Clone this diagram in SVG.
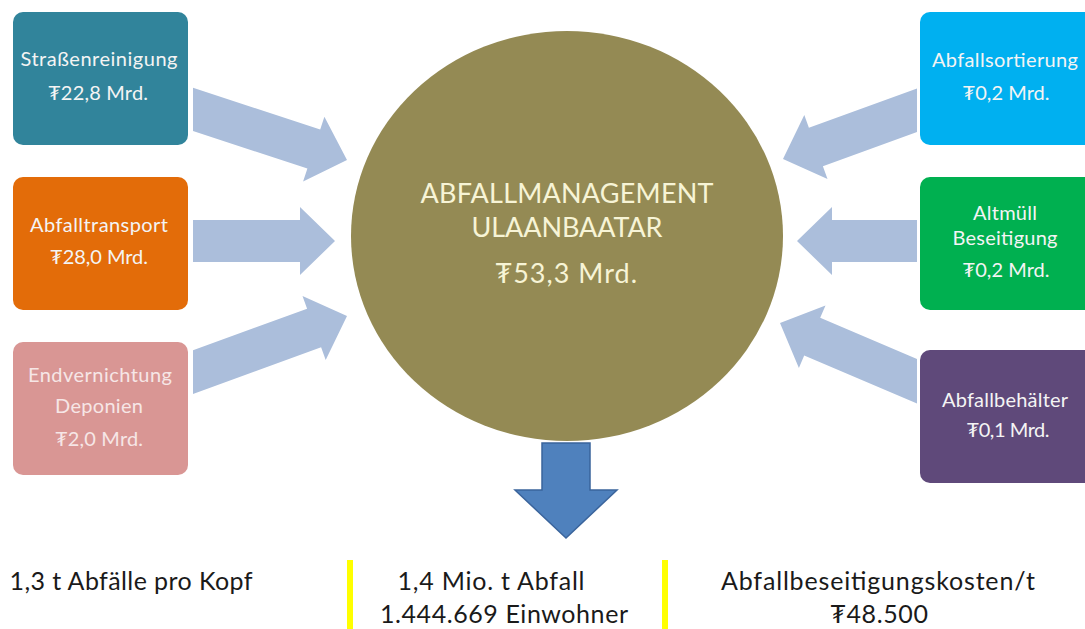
<svg xmlns="http://www.w3.org/2000/svg" width="1085" height="629" viewBox="0 0 1085 629">
<style>
.box text{font-family:Lato,"Open Sans","DejaVu Sans",sans-serif;font-size:20px;text-anchor:middle}
.lt{fill:#f4f4f4}
.arr{fill:#abbedb}
.ctr{font-family:Lato,"Open Sans","DejaVu Sans",sans-serif;font-size:27px;fill:#f7f4d6;text-anchor:middle}
.bt{font-family:Lato,"Open Sans","DejaVu Sans",sans-serif;font-size:25px;fill:#1a1a1a;text-anchor:middle}
.yl{fill:#ffff00}
</style>
<rect width="1085" height="629" fill="#ffffff"/>
<g id="connectors">
<polygon class="arr" points="193,87.8 320.2,129.6 324.4,116.8 347,160 303.1,181.4 307.4,168.6 193,131"/>
<polygon class="arr" points="193,220 300,220 300,207 335,241 300,275 300,262 193,262"/>
<polygon class="arr" points="193,350.2 307.1,308.7 302.5,296 347,316 325.7,360 321.1,347.3 193,393.9"/>
<polygon class="arr" points="917,88.4 808.9,127.7 804.3,115 783,159 827.5,179 822.9,166.3 917,132"/>
<polygon class="arr" points="917,220 832,220 832,207 797,241 832,275 832,262 917,262"/>
<polygon class="arr" points="917,358.9 820.2,317.8 825.5,305.4 780,323 798.9,368 804.2,355.6 917,403.5"/>
<polygon points="542,443 590,443 590,490 617,490 566,538 515,490 542,490" fill="#4f81bd" stroke="#3a649c" stroke-width="1.5"/>
</g>
<g id="center">
<ellipse cx="567" cy="236" rx="216" ry="205" fill="#948a54"/>
<text class="ctr" x="567" y="203" textLength="293">ABFALLMANAGEMENT</text>
<text class="ctr" x="567" y="237" textLength="191">ULAANBAATAR</text>
<text class="ctr" x="566" y="283" textLength="142">₮53,3 Mrd.</text>
</g>
<g id="strassenreinigung" class="box">
<rect x="13" y="12" width="175" height="133" rx="10" fill="#31849b"/>
<text class="lt" x="99" y="66" textLength="157">Straßenreinigung</text>
<text class="lt" x="98" y="100" textLength="100">₮22,8 Mrd.</text>
</g>
<g id="abfalltransport" class="box">
<rect x="13" y="177" width="175" height="133" rx="10" fill="#e36c09"/>
<text class="lt" x="99" y="232" textLength="138">Abfalltransport</text>
<text class="lt" x="99" y="264" textLength="98">₮28,0 Mrd.</text>
</g>
<g id="endvernichtung" class="box">
<rect x="13" y="342" width="175" height="133" rx="10" fill="#d99694"/>
<text fill="#f6e6e6" x="100" y="382" textLength="144">Endvernichtung</text>
<text fill="#f6e6e6" x="99" y="413" textLength="88">Deponien</text>
<text fill="#f6e6e6" x="99" y="446" textLength="88">₮2,0 Mrd.</text>
</g>
<g id="abfallsortierung" class="box">
<rect x="920" y="12" width="175" height="133" rx="10" fill="#00b0f0"/>
<text class="lt" x="1005" y="67" textLength="146">Abfallsortierung</text>
<text class="lt" x="1006" y="100" textLength="87">₮0,2 Mrd.</text>
</g>
<g id="altmuell" class="box">
<rect x="920" y="177" width="175" height="133" rx="10" fill="#00b050"/>
<text class="lt" x="1005" y="220" textLength="64">Altmüll</text>
<text class="lt" x="1005" y="245" textLength="105">Beseitigung</text>
<text class="lt" x="1006" y="277" textLength="87">₮0,2 Mrd.</text>
</g>
<g id="abfallbehaelter" class="box">
<rect x="920" y="350" width="175" height="133" rx="10" fill="#5f497a"/>
<text class="lt" x="1005" y="407" textLength="126">Abfallbehälter</text>
<text class="lt" x="1008" y="437" textLength="83">₮0,1 Mrd.</text>
</g>
<g id="stats">
<rect class="yl" x="347" y="560" width="6" height="69"/>
<rect class="yl" x="662" y="560" width="6" height="69"/>
<text class="bt" x="131" y="590" textLength="243">1,3 t Abfälle pro Kopf</text>
<text class="bt" x="491" y="590" textLength="187">1,4 Mio. t Abfall</text>
<text class="bt" x="504" y="623" textLength="248">1.444.669 Einwohner</text>
<text class="bt" x="878" y="590" textLength="314">Abfallbeseitigungskosten/t</text>
<text class="bt" x="879" y="623" textLength="98">₮48.500</text>
</g>
</svg>
